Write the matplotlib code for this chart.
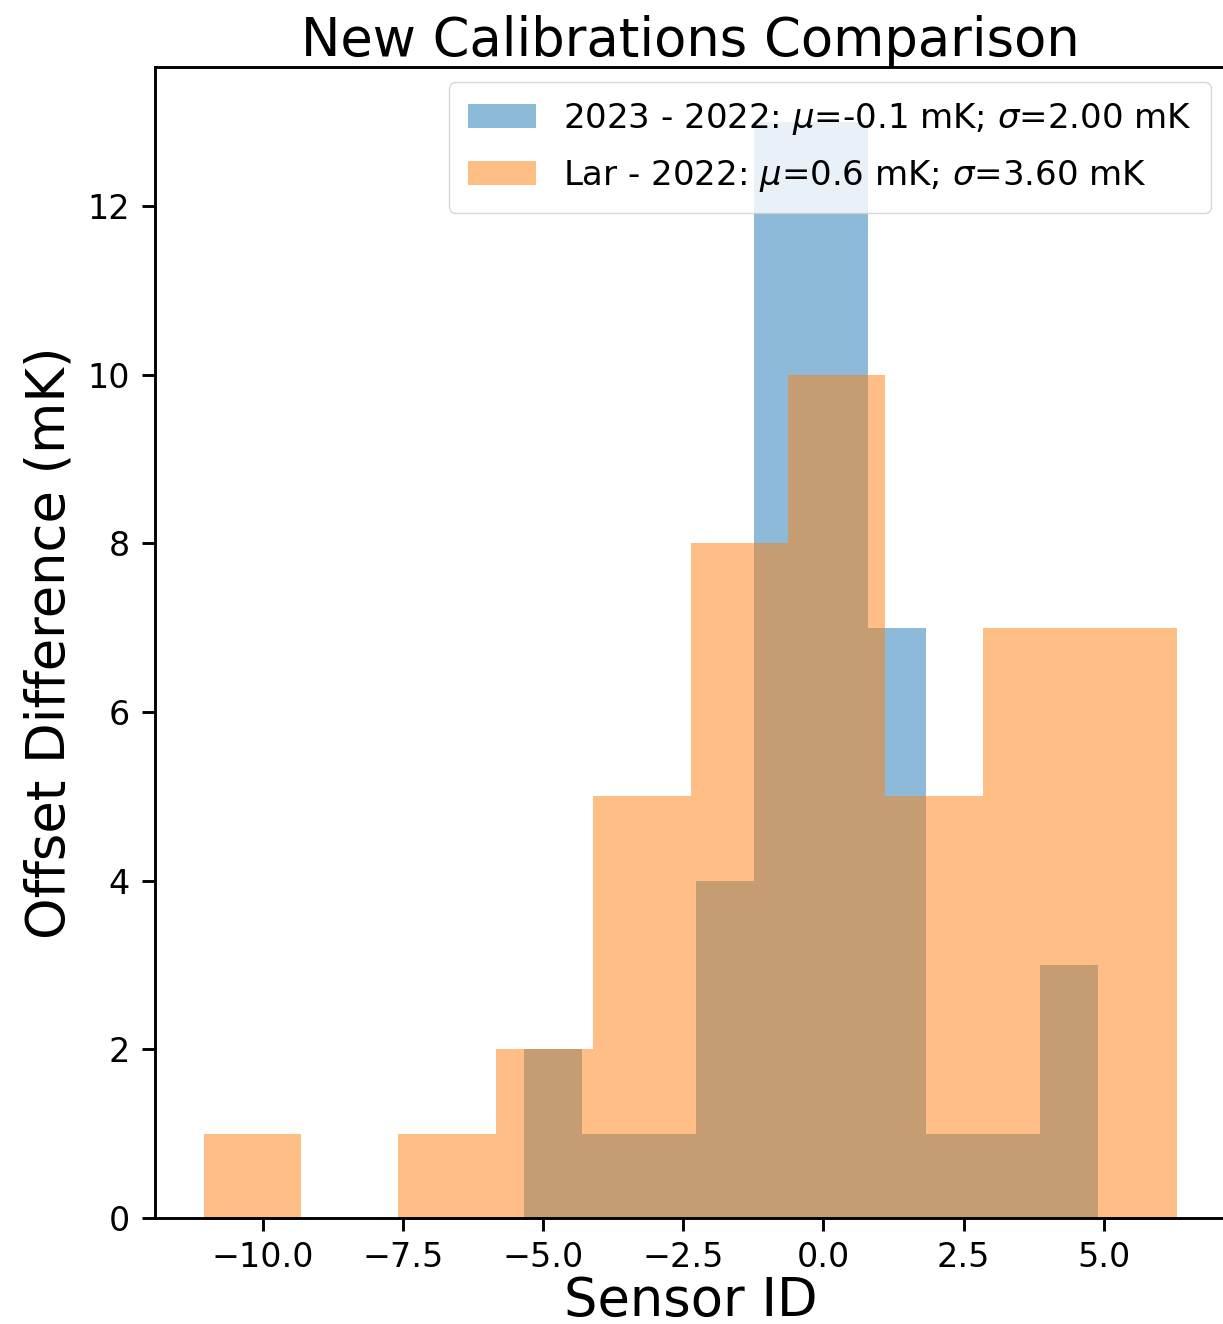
#!/usr/bin/env python3
import numpy as np
import matplotlib
matplotlib.use("Agg")
import matplotlib.pyplot as plt

# histogram counts, 10 bins per series
counts_2023 = [2, 1, 1, 4, 13, 13, 7, 1, 1, 3]
range_2023 = (-5.33, 4.89)
counts_lar = [1, 0, 1, 2, 5, 8, 10, 5, 7, 7]
range_lar = (-11.05, 6.31)

label_2023 = r"2023 - 2022: $\mu$=-0.1 mK; $\sigma$=2.00 mK"
label_lar = r"Lar - 2022: $\mu$=0.6 mK; $\sigma$=3.60 mK"


def centers_edges(lo_hi, n):
    edges = np.linspace(lo_hi[0], lo_hi[1], n + 1)
    return 0.5 * (edges[:-1] + edges[1:]), edges


def main():
    scale = 2.6
    plt.rcParams["xtick.major.size"] = 3.5 * scale
    plt.rcParams["ytick.major.size"] = 3.5 * scale
    plt.rcParams["xtick.major.width"] = 0.8 * scale
    plt.rcParams["ytick.major.width"] = 0.8 * scale
    plt.rcParams["xtick.major.pad"] = 3.0 * scale
    plt.rcParams["ytick.major.pad"] = 3.5 * scale
    plt.rcParams["axes.linewidth"] = 0.8 * scale

    fig = plt.figure(figsize=(12.23, 13.24), dpi=100)
    W, H = 1223, 1324
    left, right, top, bottom = 155, 1226, 67, 1218
    ax = fig.add_axes([left / W, 1 - bottom / H, (right - left) / W, (bottom - top) / H])

    c1, e1 = centers_edges(range_2023, len(counts_2023))
    c2, e2 = centers_edges(range_lar, len(counts_lar))
    ax.hist(c1, bins=e1, weights=counts_2023, alpha=0.5, color="tab:blue", label=label_2023)
    ax.hist(c2, bins=e2, weights=counts_lar, alpha=0.5, color="tab:orange", label=label_lar)

    ax.set_title("New Calibrations Comparison", fontsize=38, pad=6)
    ax.set_xlabel("Sensor ID", fontsize=38, labelpad=0)
    ax.set_ylabel("Offset Difference (mK)", fontsize=38, labelpad=8)
    ax.tick_params(labelsize=24)
    ax.legend(loc="upper right", fontsize=24.5, labelspacing=0.62,
              borderpad=0.55, borderaxespad=0.45)

    fig.savefig("out.png", dpi=100)
    plt.close(fig)


if __name__ == "__main__":
    main()
